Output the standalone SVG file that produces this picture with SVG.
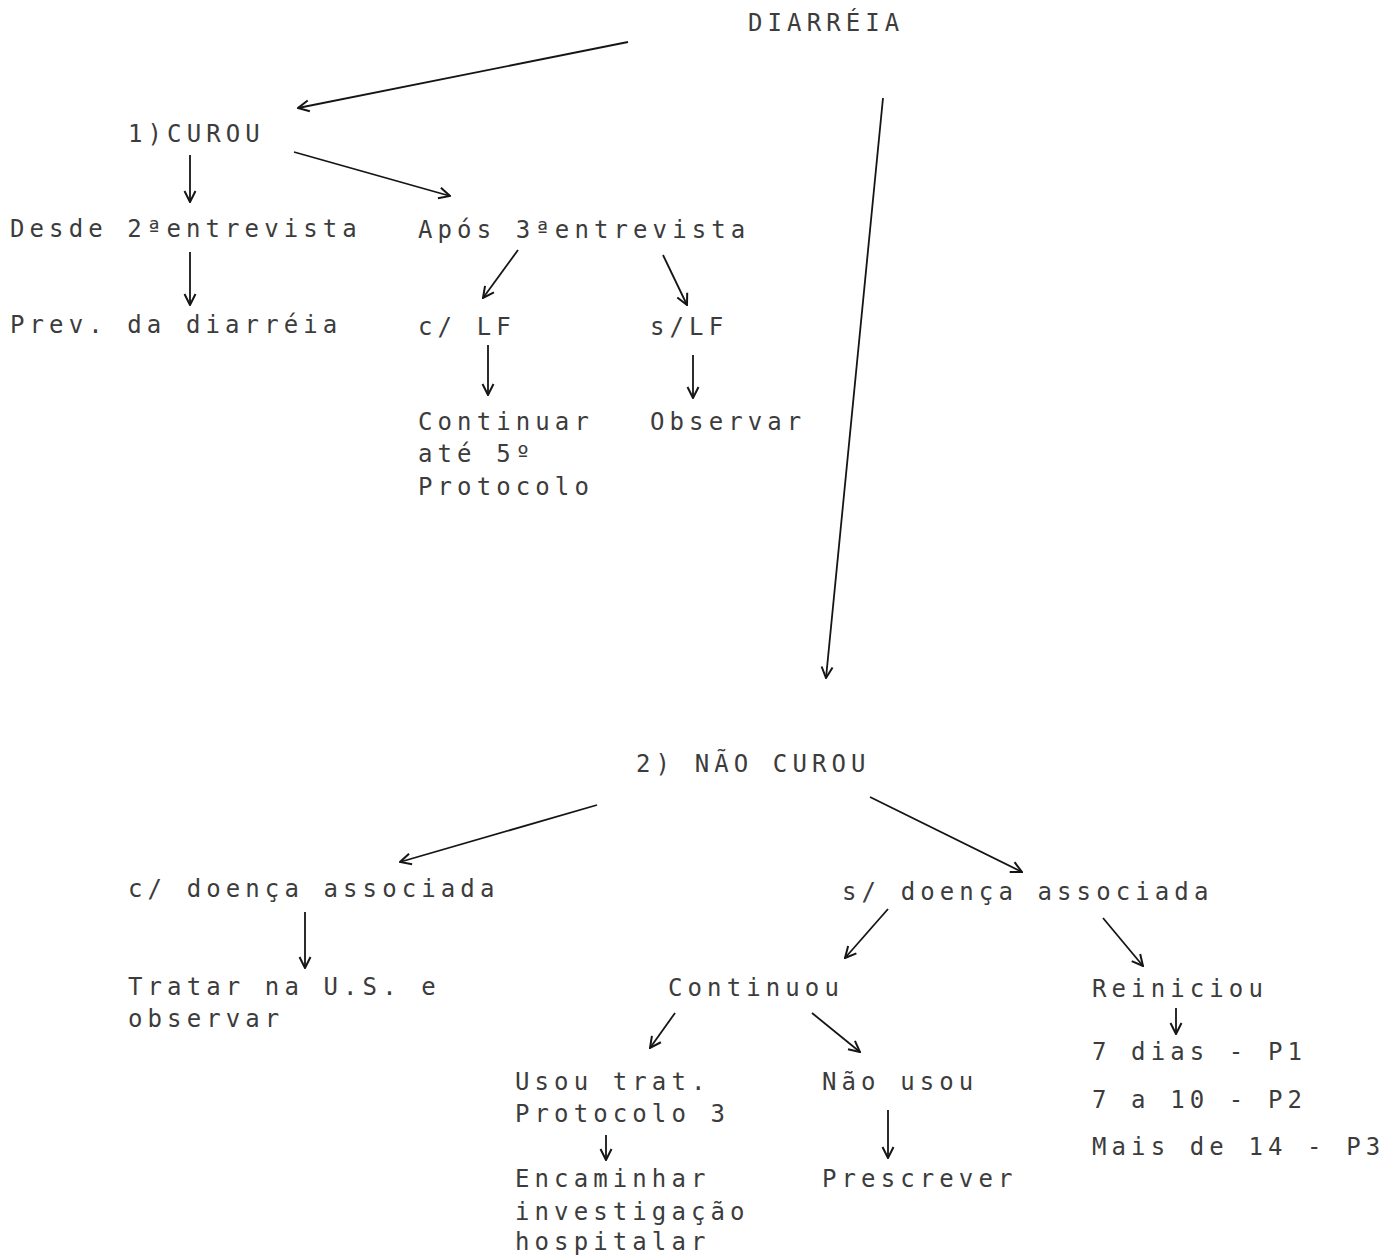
<svg xmlns="http://www.w3.org/2000/svg" width="1399" height="1259" viewBox="0 0 1399 1259">
<style>
text{font-family:"DejaVu Sans Mono","Liberation Mono",monospace;font-size:24px;letter-spacing:5.1px;fill:#3c3c3c}
.c line{stroke:#151515;stroke-width:1.8;fill:none;marker-end:url(#ah)}
</style>
<defs>
<marker id="ah" viewBox="0 0 14 14" refX="13" refY="7" markerWidth="14" markerHeight="14" markerUnits="userSpaceOnUse" orient="auto">
<path d="M2,1.5 L13,7 L2,12.5" fill="none" stroke="#151515" stroke-width="2"/>
</marker>
</defs>
<rect width="1399" height="1259" fill="#ffffff"/>
<g id="n-diarreia"><text x="748" y="31">DIARRÉIA</text></g>
<g id="n-curou"><text x="128" y="142">1)CUROU</text></g>
<g id="n-desde"><text x="10" y="237">Desde 2ªentrevista</text></g>
<g id="n-apos"><text x="418" y="238">Após 3ªentrevista</text></g>
<g id="n-prev"><text x="10" y="333">Prev. da diarréia</text></g>
<g id="n-clf"><text x="418" y="335">c/ LF</text></g>
<g id="n-slf"><text x="650" y="335">s/LF</text></g>
<g id="n-continuar"><text x="418" y="430">Continuar</text><text x="418" y="462">até 5º</text><text x="418" y="495">Protocolo</text></g>
<g id="n-observar"><text x="650" y="430">Observar</text></g>
<g id="n-naocurou"><text x="636" y="772">2) NÃO CUROU</text></g>
<g id="n-cdoenca"><text x="128" y="897">c/ doença associada</text></g>
<g id="n-sdoenca"><text x="842" y="900">s/ doença associada</text></g>
<g id="n-tratar"><text x="128" y="995">Tratar na U.S. e</text><text x="128" y="1027">observar</text></g>
<g id="n-continuou"><text x="668" y="996">Continuou</text></g>
<g id="n-reiniciou"><text x="1092" y="997">Reiniciou</text></g>
<g id="n-dias"><text x="1092" y="1060">7 dias - P1</text><text x="1092" y="1108">7 a 10 - P2</text><text x="1092" y="1155">Mais de 14 - P3</text></g>
<g id="n-usou"><text x="515" y="1090">Usou trat.</text><text x="515" y="1122">Protocolo 3</text></g>
<g id="n-naousou"><text x="822" y="1090">Não usou</text></g>
<g id="n-encaminhar"><text x="515" y="1187">Encaminhar</text><text x="515" y="1220">investigação</text><text x="515" y="1250">hospitalar</text></g>
<g id="n-prescrever"><text x="822" y="1187">Prescrever</text></g>
<g class="c" id="connectors">
<line x1="628" y1="42" x2="298" y2="108"/>
<line x1="883" y1="98" x2="826" y2="678"/>
<line x1="190" y1="155" x2="190" y2="202"/>
<line x1="294" y1="152" x2="450" y2="196"/>
<line x1="190" y1="252" x2="190" y2="305"/>
<line x1="518" y1="250" x2="483" y2="298"/>
<line x1="663" y1="255" x2="687" y2="305"/>
<line x1="488" y1="345" x2="488" y2="395"/>
<line x1="693" y1="355" x2="693" y2="398"/>
<line x1="597" y1="805" x2="400" y2="862"/>
<line x1="870" y1="797" x2="1022" y2="872"/>
<line x1="305" y1="912" x2="305" y2="968"/>
<line x1="888" y1="909" x2="845" y2="958"/>
<line x1="1103" y1="918" x2="1143" y2="966"/>
<line x1="675" y1="1013" x2="650" y2="1048"/>
<line x1="812" y1="1013" x2="860" y2="1052"/>
<line x1="1176" y1="1008" x2="1176" y2="1034"/>
<line x1="606" y1="1135" x2="606" y2="1160"/>
<line x1="888" y1="1110" x2="888" y2="1158"/>
</g>
</svg>
